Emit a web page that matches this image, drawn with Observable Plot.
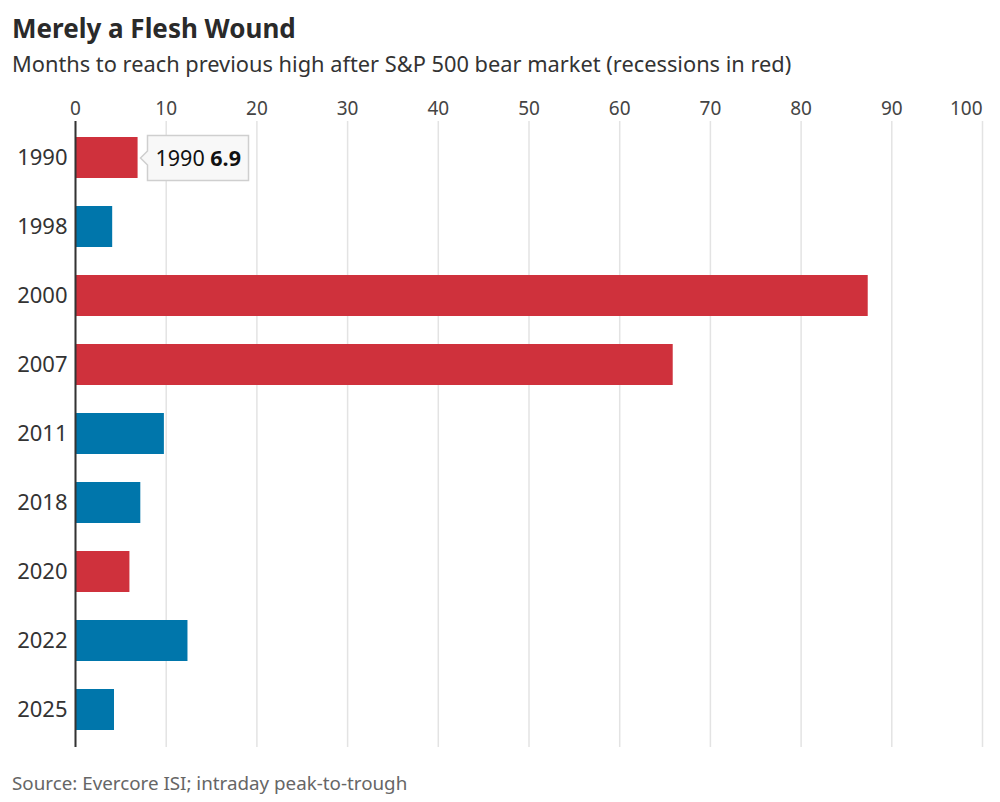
<!DOCTYPE html>
<html>
<head>
<meta charset="utf-8">
<script src="https://cdn.jsdelivr.net/npm/d3@7"></script>
<script src="https://cdn.jsdelivr.net/npm/@observablehq/plot@0.6"></script>
<style>
  html, body { margin: 0; padding: 0; background: #fff; }
  #wrap { position: relative; width: 1000px; height: 802px; font-family: "Noto Sans", sans-serif; }
  .title { position: absolute; left: 12px; top: 15px; font-size: 26px; line-height: 1; font-weight: 700; color: #2a2a2a; }
  .subtitle { position: absolute; left: 12px; top: 53px; font-size: 21.8px; line-height: 1; color: #333; }
  .source { position: absolute; left: 12px; top: 774px; font-size: 18.8px; line-height: 1; color: #666; }
  #chart { position: absolute; left: 0; top: 85px; }
</style>
</head>
<body>
<div id="wrap">
  <div class="title">Merely a Flesh Wound</div>
  <div class="subtitle">Months to reach previous high after S&amp;P 500 bear market (recessions in red)</div>
  <div id="chart"></div>
  <div class="source">Source: Evercore ISI; intraday peak-to-trough</div>
</div>
<script>
const years = ["1990", "1998", "2000", "2007", "2011", "2018", "2020", "2022", "2025"];
const months = [6.9, 4.1, 87.4, 65.9, 9.8, 7.2, 6.0, 12.4, 4.3];
const recession = [true, false, true, true, false, false, true, false, false];
const xTicks = [0, 10, 20, 30, 40, 50, 60, 70, 80, 90, 100];
const highlighted = ["1990"];

const RED = "#cf313c";
const BLUE = "#0076ab";

const data = years.map((y, i) => ({year: y, value: months[i], rec: recession[i]}));

const plot = Plot.plot({
  width: 1000,
  height: 675,
  marginTop: 36,
  marginBottom: 13,
  marginLeft: 75,
  marginRight: 18,
  style: {fontFamily: "Noto Sans, sans-serif", background: "#fff"},
  x: {domain: [0, 100], axis: null, label: null},
  y: {domain: years, paddingInner: 0.4, paddingOuter: 0.2, axis: null, label: null},
  marks: [
    Plot.ruleX(xTicks, {x: d => d, stroke: "#e3e3e3", strokeWidth: 1.5}),
    Plot.axisX(xTicks.slice(0, -1), {anchor: "top", tickSize: 0, tickPadding: 7, fontSize: 19, color: "#444", label: null}),
    Plot.axisX(xTicks.slice(-1), {anchor: "top", tickSize: 0, tickPadding: 7, fontSize: 19, color: "#444", textAnchor: "end", label: null}),
    Plot.barX(data, {x: "value", y: "year", fill: d => d.rec ? RED : BLUE}),
    Plot.ruleX([0], {stroke: "#333", strokeWidth: 2}),
    Plot.axisY({tickSize: 0, tickPadding: 8, fontSize: 22, color: "#333", label: null}),
    Plot.tip(data.filter(d => highlighted.includes(d.year)), {
      x: "value", y: "year", anchor: "left", dx: 2,
      title: d => `${d.year} ${d.value.toFixed(1)}`,
      fontSize: 21.5, textPadding: 8, pointerSize: 14,
      fill: "#f8f8f8", stroke: "#cfcfcf", strokeWidth: 1.5, pathFilter: "none"
    })
  ]
});

document.getElementById("chart").appendChild(plot);

// Make the value in the tip bold
d3.select(plot).selectAll("g[aria-label=tip] text").each(function() {
  const t = d3.select(this);
  t.attr("fill", "#111");
  const ts = t.select("tspan");
  const target = ts.empty() ? t : ts;
  const txt = target.text();
  const idx = txt.lastIndexOf(" ");
  if (idx > 0) {
    target.text(txt.slice(0, idx + 1));
    target.append("tspan").attr("font-weight", "bold").text(txt.slice(idx + 1));
  }
});
</script>
</body>
</html>
